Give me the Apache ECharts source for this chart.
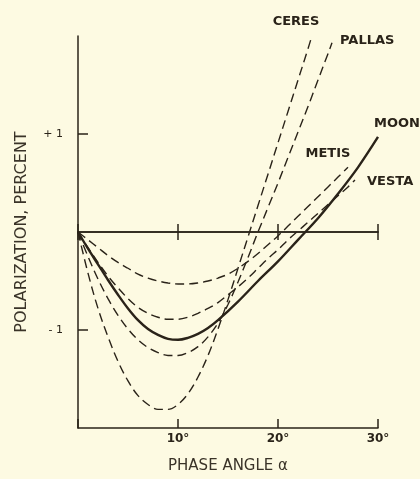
<!DOCTYPE html>
<html>
<head>
<meta charset="utf-8">
<script src="https://cdn.jsdelivr.net/npm/echarts@6/dist/echarts.min.js"></script>
<style>
  html, body { margin: 0; padding: 0; background: #fdfae2; }
  #chart { width: 420px; height: 479px; }
</style>
</head>
<body>
<div id="chart"></div>
<script>
// Polarization (percent) versus phase angle (degrees)
const moonAngle  = [0, 1, 2, 3, 4, 5, 6, 7, 8, 9, 10, 11, 12, 13, 14, 16, 18, 20, 22, 24, 26, 28, 30];
const moonPol    = [0, -0.17, -0.33, -0.49, -0.64, -0.78, -0.9, -0.99, -1.05, -1.09, -1.1, -1.08, -1.04, -0.98, -0.9, -0.71, -0.5, -0.3, -0.08, 0.14, 0.39, 0.66, 0.97];

const ceresAngle = [0, 1, 2, 3, 4, 5, 6, 7, 8, 9, 10, 11, 12, 13, 14, 15, 16, 17, 18, 19, 20, 21, 22, 23, 23.3];
const ceresPol   = [0, -0.42, -0.78, -1.07, -1.32, -1.52, -1.67, -1.76, -1.81, -1.81, -1.76, -1.65, -1.48, -1.26, -0.99, -0.69, -0.37, -0.05, 0.27, 0.59, 0.91, 1.23, 1.55, 1.87, 1.97];

const pallasAngle = [0, 1, 2, 3, 4, 5, 6, 7, 8, 9, 10, 11, 12, 13, 14, 15, 16, 17, 18, 19, 20, 21, 22, 23, 24, 25, 25.4];
const pallasPol   = [0, -0.25, -0.48, -0.68, -0.85, -0.99, -1.1, -1.18, -1.23, -1.26, -1.26, -1.23, -1.17, -1.07, -0.93, -0.74, -0.51, -0.26, 0, 0.25, 0.5, 0.76, 1.02, 1.28, 1.55, 1.82, 1.93];

const metisAngle = [0, 1, 2, 3, 4, 5, 6, 7, 8, 9, 10, 11, 12, 13, 14, 15, 16, 17, 18, 19, 20, 21, 22, 23, 24, 25, 26, 27];
const metisPol   = [0, -0.08, -0.16, -0.24, -0.31, -0.37, -0.43, -0.47, -0.5, -0.52, -0.53, -0.53, -0.52, -0.5, -0.47, -0.43, -0.37, -0.3, -0.22, -0.13, -0.04, 0.06, 0.16, 0.26, 0.36, 0.46, 0.56, 0.66];

const vestaAngle = [0, 1, 2, 3, 4, 5, 6, 7, 8, 9, 10, 11, 12, 13, 14, 15, 16, 17, 18, 19, 20, 21, 22, 23, 24, 25, 26, 27, 27.7];
const vestaPol   = [0, -0.16, -0.31, -0.45, -0.57, -0.68, -0.77, -0.83, -0.87, -0.89, -0.89, -0.87, -0.83, -0.78, -0.72, -0.64, -0.56, -0.47, -0.37, -0.27, -0.18, -0.08, 0.01, 0.1, 0.19, 0.28, 0.37, 0.46, 0.53];

const xTicks = [10, 20, 30];
const yTicks = [-1, 1];
const yTickText = { '-1': '- 1', '1': '+ 1' };

const ink = '#2a2319';
const labelFont = { fontFamily: 'DejaVu Sans', fontWeight: 'bold', fontSize: 13, color: ink };

function pairs(a, b) { return a.map((x, i) => [x, b[i]]); }

// Name placed near the last point of a curve
function endTag(name, angles, pol, align, offset) {
  return {
    symbol: 'circle', symbolSize: 0, silent: true,
    label: Object.assign({ show: true, position: 'inside', formatter: name, align: align, verticalAlign: 'middle', offset: offset }, labelFont),
    data: [{ coord: [angles[angles.length - 1], pol[pol.length - 1]] }]
  };
}

function curve(name, angles, pol, dashed, align, offset) {
  return {
    name: name, type: 'line', xAxisIndex: 0, yAxisIndex: 0,
    data: pairs(angles, pol),
    smooth: 0.35, showSymbol: false, symbol: 'none', silent: true, animation: false,
    lineStyle: { color: ink, width: dashed ? 1.4 : 2.4, type: dashed ? [9, 5] : 'solid', cap: 'butt' },
    markPoint: endTag(name, angles, pol, align, offset)
  };
}

const chart = echarts.init(document.getElementById('chart'), null, { renderer: 'canvas' });
chart.setOption({
  backgroundColor: '#fdfae2',
  animation: false,
  grid: { left: 78, right: 42, top: 36, bottom: 51, containLabel: false },
  xAxis: [
    { // bottom axis with degree labels
      type: 'value', min: 0, max: 30, interval: 10, position: 'bottom',
      axisLine: { show: true, onZero: false, lineStyle: { color: ink, width: 1.5 } },
      axisTick: { show: true, inside: true, length: 9, lineStyle: { color: ink, width: 1.5 } },
      axisLabel: { color: ink, fontFamily: 'DejaVu Sans', fontWeight: 'bold', fontSize: 12, margin: 5,
                   formatter: v => (xTicks.includes(v) ? v + '°' : '') },
      splitLine: { show: false },
      name: 'PHASE ANGLE α', nameLocation: 'middle', nameGap: 31,
      nameTextStyle: { color: '#3a3328', fontFamily: 'DejaVu Sans', fontSize: 15 }
    },
    { // zero line, upper half of its ticks
      type: 'value', min: 0, max: 30, interval: 10, position: 'bottom',
      axisLine: { show: true, onZero: true, onZeroAxisIndex: 0, lineStyle: { color: ink, width: 1.5 } },
      axisTick: { show: true, inside: true, length: 8, lineStyle: { color: ink, width: 1.5 } },
      axisLabel: { show: false }, splitLine: { show: false }
    },
    { // zero line, lower half of its ticks
      type: 'value', min: 0, max: 30, interval: 10, position: 'bottom',
      axisLine: { show: true, onZero: true, onZeroAxisIndex: 0, lineStyle: { color: ink, width: 1.5 } },
      axisTick: { show: true, inside: false, length: 8, lineStyle: { color: ink, width: 1.5 } },
      axisLabel: { show: false }, splitLine: { show: false }
    }
  ],
  yAxis: {
    type: 'value', min: -2, max: 2, interval: 1,
    axisLine: { show: true, lineStyle: { color: ink, width: 1.5 } },
    axisTick: { show: true, inside: true, length: 10, customValues: yTicks, lineStyle: { color: ink, width: 1.5 } },
    axisLabel: { color: ink, fontFamily: 'DejaVu Sans', fontSize: 11, margin: 15, customValues: yTicks,
                 formatter: v => yTickText[String(v)] },
    splitLine: { show: false },
    name: 'POLARIZATION, PERCENT', nameLocation: 'middle', nameGap: 48, nameRotate: 90,
    nameTextStyle: { color: '#3a3328', fontFamily: 'DejaVu Sans', fontSize: 16 }
  },
  series: [
    curve('CERES',  ceresAngle,  ceresPol,  true,  'center', [-15, -17]),
    curve('PALLAS', pallasAngle, pallasPol, true,  'left',   [8, -2]),
    curve('METIS',  metisAngle,  metisPol,  true,  'center', [-20, -14]),
    curve('VESTA',  vestaAngle,  vestaPol,  true,  'left',   [12, 2]),
    curve('MOON',   moonAngle,   moonPol,   false, 'left',   [-4, -13])
  ]
});
</script>
</body>
</html>
